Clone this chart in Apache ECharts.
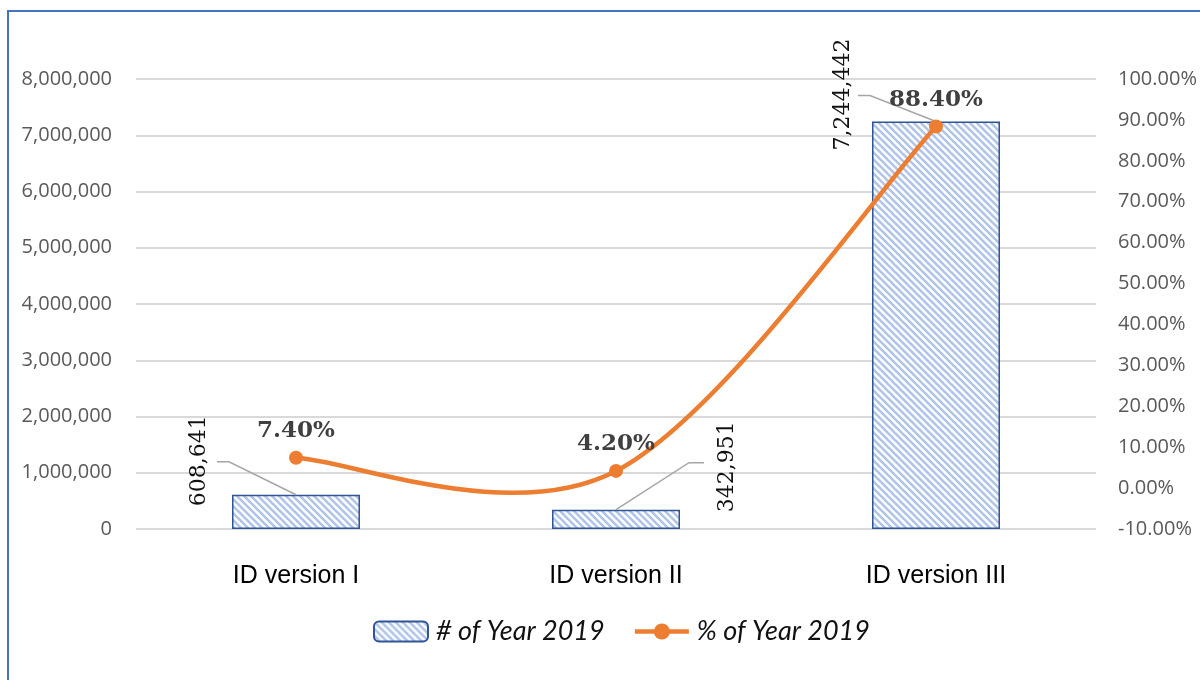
<!DOCTYPE html>
<html>
<head>
<meta charset="utf-8">
<script src="https://cdn.jsdelivr.net/npm/echarts@6/dist/echarts.min.js"></script>
<style>
  html, body { margin: 0; padding: 0; background: #fff; overflow: hidden; }
  .wrap { position: relative; width: 1200px; height: 680px; }
  .frame {
    position: absolute; left: 7px; top: 10px; width: 1300px; height: 800px;
    border-left: 2px solid #4472c4; border-top: 2px solid #4472c4;
  }
  #main { position: absolute; left: 0; top: 0; width: 1200px; height: 680px; }
</style>
</head>
<body>
<div class="wrap">
  <div class="frame"></div>
  <div id="main"></div>
</div>
<script>
// data
const categories = ['ID version I', 'ID version II', 'ID version III']
const countValues = [608641, 342951, 7244442]
const shareValues = [7.4, 4.2, 88.4]
const countTicks = { min: 0, max: 8000000, interval: 1000000 }
const shareTicks = { min: -10, max: 100, interval: 10 }

// where each rotated count label sits relative to its bar top (pixels)
const leaderOffsets = [
  { ex: -67, ey: -33, lx: -79, tx: -97, ty: -34 },
  { ex: 73, ey: -47, lx: 88, tx: 111, ty: -43 },
  { ex: -66, ey: -26, lx: -78, tx: -93, ty: -27 },
]

const orange = '#ed7d31'

// striped fill for bars
function stripePattern () {
  let s = 7
  let c = document.createElement('canvas')
  c.width = s
  c.height = s
  let ctx = c.getContext('2d')
  ctx.fillStyle = '#ffffff'
  ctx.fillRect(0, 0, s, s)
  ctx.strokeStyle = '#b1c5e9'
  ctx.lineWidth = 2.6
  for (let k = -s; k <= s; k += s) {
    ctx.beginPath()
    ctx.moveTo(k - 1, -1)
    ctx.lineTo(k + s + 1, s + 1)
    ctx.stroke()
  }
  return c
}

let myChart = echarts.init(document.getElementById('main'))
let axisFont = { color: '#595959', fontSize: 20, fontFamily: 'Open Sans' }

let option = {
  animation: false,
  grid: { left: 136, right: 104, top: 79, bottom: 151 },
  legend: {
    data: [
      { name: '# of Year 2019' },
      { name: '% of Year 2019', lineStyle: { color: orange, width: 4.5, opacity: 1 } },
    ],
    bottom: 30,
    left: 368,
    itemWidth: 54,
    itemHeight: 20,
    itemGap: 28,
    textStyle: { fontFamily: 'Lato', fontStyle: 'italic', fontSize: 27, color: '#111', padding: [0, 0, 0, 3] },
  },
  xAxis: {
    type: 'category',
    data: categories,
    axisLine: { show: false },
    axisTick: { show: false },
    axisLabel: { color: '#000', fontSize: 25, fontFamily: 'Liberation Sans', margin: 35 },
  },
  yAxis: [
    {
      type: 'value',
      min: countTicks.min,
      max: countTicks.max,
      interval: countTicks.interval,
      axisLine: { show: false },
      axisTick: { show: false },
      splitLine: { lineStyle: { color: '#d9d9d9', width: 2 } },
      axisLabel: Object.assign({ margin: 24, formatter: v => v.toLocaleString('en-US') }, axisFont),
    },
    {
      type: 'value',
      min: shareTicks.min,
      max: shareTicks.max,
      interval: shareTicks.interval,
      axisLine: { show: false },
      axisTick: { show: false },
      splitLine: { show: false },
      axisLabel: Object.assign({ margin: 22, formatter: v => v.toFixed(2) + '%' }, axisFont),
    },
  ],
  series: [
    {
      name: '# of Year 2019',
      type: 'bar',
      data: countValues,
      barWidth: '40%',
      itemStyle: {
        color: { image: stripePattern(), repeat: 'repeat' },
        borderColor: '#2f5597',
        borderWidth: 1.5,
      },
    },
    {
      // leader lines and rotated count labels
      type: 'custom',
      coordinateSystem: 'cartesian2d',
      silent: true,
      z: 5,
      data: countValues.map((v, i) => [i, v]),
      encode: { x: 0, y: 1 },
      renderItem (params, api) {
        let top = api.coord([api.value(0), api.value(1)])
        let o = leaderOffsets[params.dataIndex]
        return {
          type: 'group',
          children: [
            {
              type: 'polyline',
              shape: {
                points: [
                  [top[0], top[1]],
                  [top[0] + o.ex, top[1] + o.ey],
                  [top[0] + o.lx, top[1] + o.ey],
                ],
              },
              style: { stroke: '#a6a6a6', lineWidth: 1.5, fill: null },
            },
            {
              type: 'text',
              x: top[0] + o.tx,
              y: top[1] + o.ty,
              rotation: Math.PI / 2,
              style: {
                text: api.value(1).toLocaleString('en-US'),
                align: 'center',
                verticalAlign: 'middle',
                fill: '#111',
                font: '22px "DejaVu Serif"',
              },
            },
          ],
        }
      },
    },
    {
      // smoothed curve (spreadsheet-style cardinal spline, allowed to overshoot)
      type: 'custom',
      coordinateSystem: 'cartesian2d',
      yAxisIndex: 1,
      silent: true,
      z: 8,
      data: shareValues.map((v, i) => [i, v]),
      encode: { x: 0, y: 1 },
      renderItem (params, api) {
        let i = params.dataIndex
        let n = shareValues.length
        if (i >= n - 1) return null
        let pt = k => api.coord([Math.max(0, Math.min(n - 1, k)), shareValues[Math.max(0, Math.min(n - 1, k))]])
        let p0 = pt(i - 1), p1 = pt(i), p2 = pt(i + 1), p3 = pt(i + 2)
        return {
          type: 'bezierCurve',
          shape: {
            x1: p1[0], y1: p1[1],
            x2: p2[0], y2: p2[1],
            cpx1: p1[0] + (p2[0] - p0[0]) / 6,
            cpy1: p1[1] + (p2[1] - p0[1]) / 6,
            cpx2: p2[0] - (p3[0] - p1[0]) / 6,
            cpy2: p2[1] - (p3[1] - p1[1]) / 6,
          },
          style: { stroke: orange, lineWidth: 4.5, fill: null, lineCap: 'round' },
        }
      },
    },
    {
      name: '% of Year 2019',
      type: 'line',
      yAxisIndex: 1,
      data: shareValues,
      symbol: 'circle',
      symbolSize: 14,
      z: 10,
      lineStyle: { color: orange, width: 4.5, opacity: 0 },
      itemStyle: { color: orange },
      label: {
        show: true,
        position: 'top',
        distance: 8,
        formatter: p => p.value.toFixed(2) + '%',
        color: '#404040',
        fontFamily: 'DejaVu Serif',
        fontWeight: 'bold',
        fontSize: 23,
      },
    },
  ],
}

option && myChart.setOption(option)
</script>
</body>
</html>
